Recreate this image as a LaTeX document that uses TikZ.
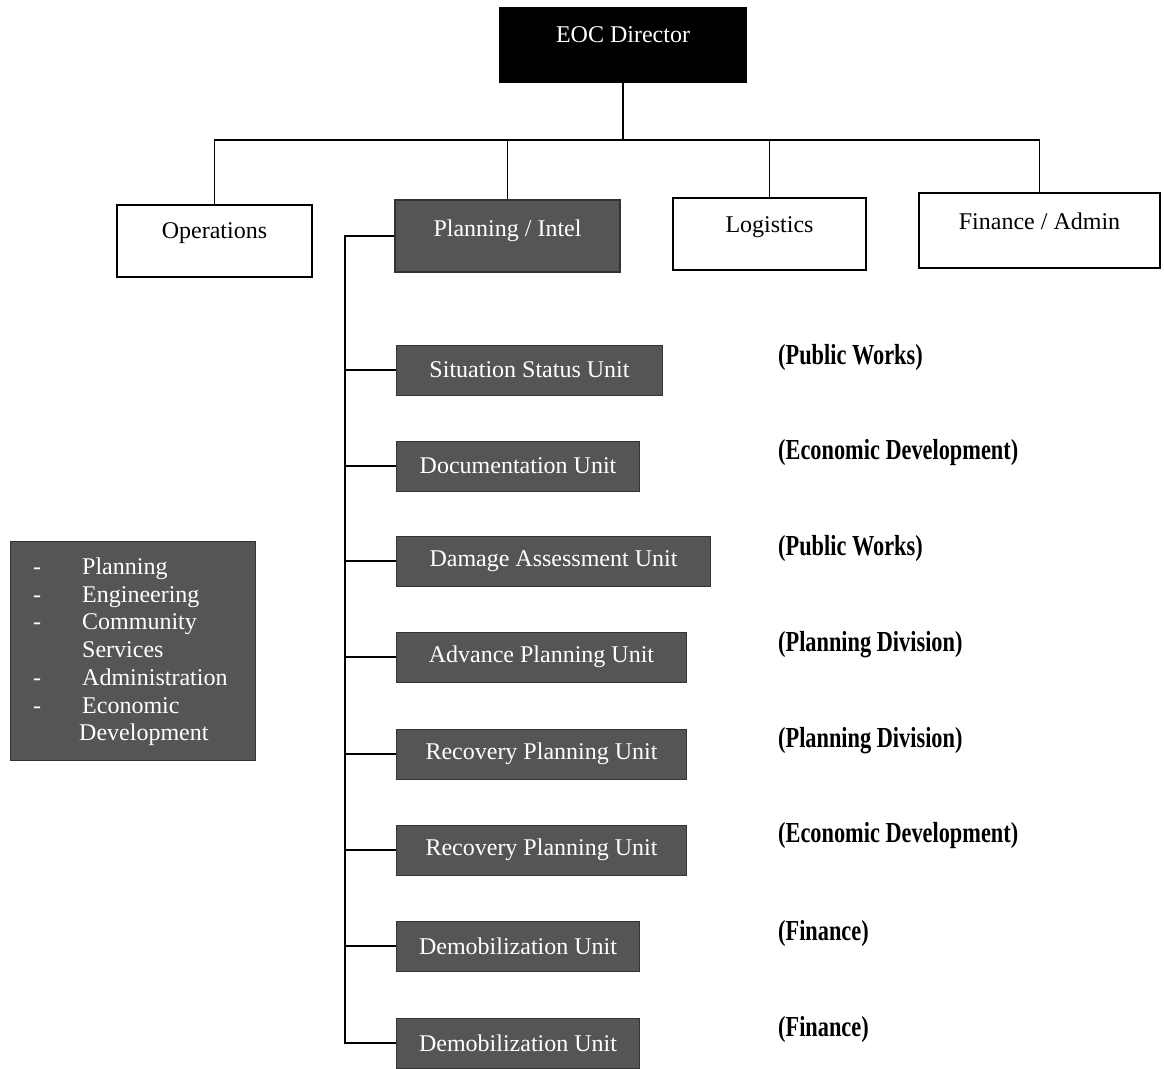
\documentclass[tikz,border=0pt]{standalone}
\usepackage{fontspec}
\setmainfont{Liberation Serif}
\usepackage{graphicx}
\usepackage{array}
\definecolor{unitgray}{HTML}{555555}
% condensed bold tag beside each unit
\newcommand\unittag[1]{\scalebox{0.77}[1]{\bfseries #1}}
\begin{document}
\begin{tikzpicture}[x=1pt,y=-1pt,
  every node/.style={font=\fontsize{24}{27.7}\selectfont},
  wire/.style={line width=1.4pt, draw=black},
  whitebox/.style={draw=black, line width=1.4pt, fill=white, inner sep=0pt},
  headbox/.style={draw=black, line width=1.4pt, fill=black, text=white, inner sep=0pt},
  darkbox/.style={draw=black!80, line width=1pt, fill=unitgray, text=white, inner sep=0pt},
  unitbox/.style={darkbox, anchor=west, minimum height=50pt},
  tag/.style={anchor=west, inner sep=0pt, font=\fontsize{29}{32}\selectfont}
]
\useasboundingbox (0,0) rectangle (1164,1068);

% top of the chart
\node[headbox, minimum width=246pt, text height=34pt, text depth=40pt] (eoc) at (623,45) {EOC Director};

\node[whitebox, minimum width=195pt, text height=33pt, text depth=39pt] (ops) at (214.5,241) {Operations};
\node[darkbox, line width=1.2pt, minimum width=225pt, text height=36pt, text depth=36pt] (plan) at (507.5,236) {Planning / Intel};
\node[whitebox, minimum width=193pt, text height=34pt, text depth=38pt] (log) at (769.5,234) {Logistics};
\node[whitebox, minimum width=241pt, text height=36pt, text depth=39pt] (fin) at (1039.5,230.5) {Finance / Admin};

% horizontal bus under the director
\coordinate (bus) at (0,140);
\draw[wire] (eoc.south) -- (eoc.south |- bus);
\draw[wire] (ops.north) -- (ops.north |- bus) -- (fin.north |- bus) -- (fin.north);
\draw[wire] (plan.north) -- (plan.north |- bus);
\draw[wire] (log.north) -- (log.north |- bus);

% planning / intel units
\node[unitbox, minimum width=266pt] (u1) at (396,370) {Situation Status Unit};
\node[unitbox, minimum width=243pt] (u2) at (396,466) {Documentation Unit};
\node[unitbox, minimum width=314pt] (u3) at (396,561) {Damage Assessment Unit};
\node[unitbox, minimum width=290pt] (u4) at (396,657) {Advance Planning Unit};
\node[unitbox, minimum width=290pt] (u5) at (396,754) {Recovery Planning Unit};
\node[unitbox, minimum width=290pt] (u6) at (396,850) {Recovery Planning Unit};
\node[unitbox, minimum width=243pt] (u7) at (396,946) {Demobilization Unit};
\node[unitbox, minimum width=243pt] (u8) at (396,1043) {Demobilization Unit};

% spine of the planning branch
\coordinate (spine) at (345,0);
\draw[wire] (plan.west) -- (plan.west -| spine) -- (spine |- u8.west) -- (u8.west);
\foreach \u in {u1,u2,u3,u4,u5,u6,u7}
  \draw[wire] (\u.west) -- (\u.west -| spine);

% departments staffing each unit
\node[tag] (t1) at (778,358) {\unittag{(Public Works)}};
\node[tag] (t2) at (778,453) {\unittag{(Economic Development)}};
\node[tag] (t3) at (778,549) {\unittag{(Public Works)}};
\node[tag] (t4) at (778,645) {\unittag{(Planning Division)}};
\node[tag] (t5) at (778,741) {\unittag{(Planning Division)}};
\node[tag] (t6) at (778,836) {\unittag{(Economic Development)}};
\node[tag] (t7) at (778,934) {\unittag{(Finance)}};
\node[tag] (t8) at (778,1030) {\unittag{(Finance)}};

% list of participating departments
\node[darkbox, minimum width=245pt, minimum height=219pt] (grp) at (132.5,650.5) {};
\node[anchor=north west, inner sep=0pt, text=white] (grptxt) at (33,555) {%
  \begin{tabular}{@{}p{49pt}@{}l@{}}
  - & Planning\\
  - & Engineering\\
  - & Community\\
    & Services\\
  - & Administration\\
  - & Economic\\
    & \hspace{-3pt}Development
  \end{tabular}};
\end{tikzpicture}
\end{document}
